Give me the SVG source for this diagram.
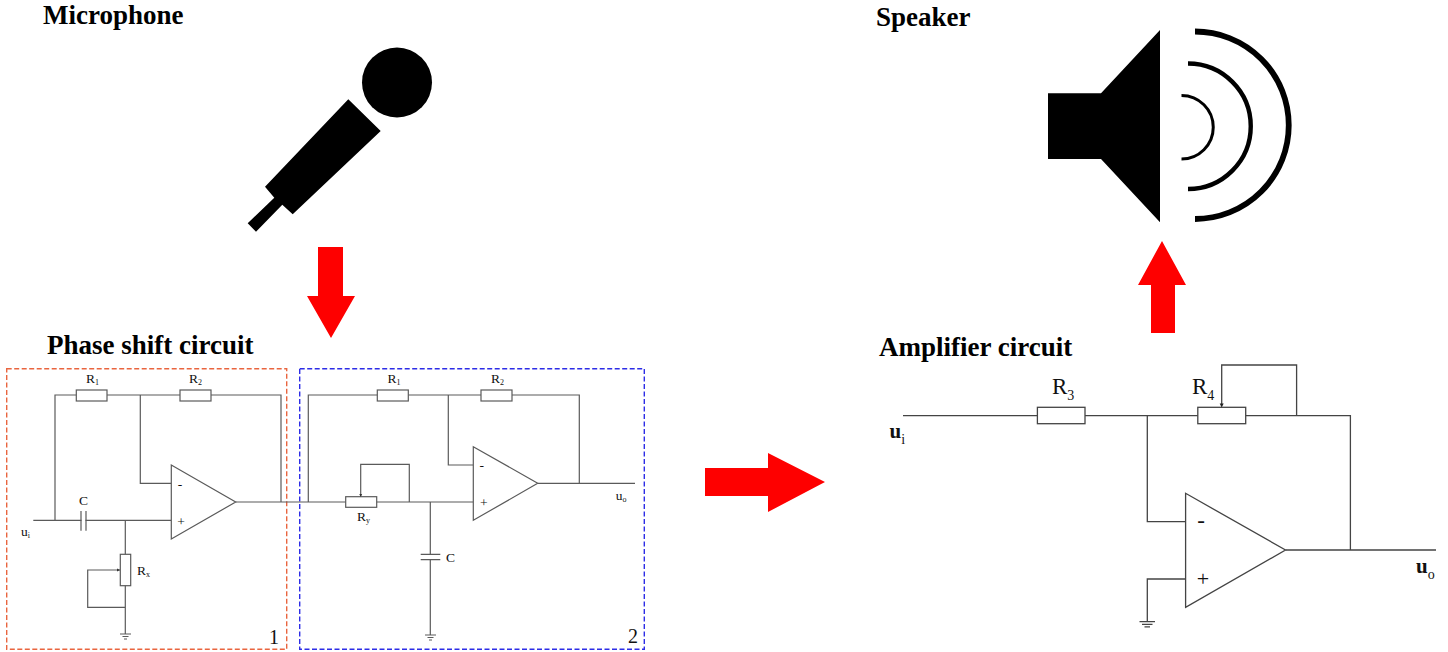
<svg xmlns="http://www.w3.org/2000/svg" width="1448" height="652" viewBox="0 0 1448 652">
<style>
text{font-family:"Liberation Serif","Times New Roman",serif;fill:#111}
.t{font-size:27px;font-weight:bold;fill:#000}
.l{font-size:13.5px}
.s{font-size:8px}
.L{font-size:23px}
.S{font-size:14px}
.m{text-anchor:middle}
.w{fill:none;stroke:#5a5a5a;stroke-width:1.2}
.W{fill:none;stroke:#444;stroke-width:1.3}
.b{fill:#fff;stroke:#5a5a5a;stroke-width:1.2}
.B{fill:#fff;stroke:#444;stroke-width:1.3}
.r{fill:#fe0000}
.k{fill:#000}
.a{fill:none;stroke:#000}
.u{font-size:21px;font-weight:bold}
</style>
<rect width="1448" height="652" fill="#fff"/>
<g id="microphone">
<circle class="k" cx="397" cy="82.5" r="35"/>
<polygon class="k" points="348.3,99.3 380.7,131 292.7,214.3 282.3,204.7 256,231.7 247.7,223.3 274.3,197.7 265,186.7"/>
<text class="t" x="43" y="24">Microphone</text>
</g>
<g id="speaker">
<polygon class="k" points="1048,93.3 1101,93.3 1160,30 1160,222.3 1101,159 1048,159"/>
<path class="a" stroke-width="5.8" d="M1195,31.5A93.75,93.75 0 0 1 1195,219"/>
<path class="a" stroke-width="4.4" d="M1188,63.5A62.75,62.75 0 0 1 1188,189"/>
<path class="a" stroke-width="3" d="M1181.5,95.5A31.75,31.75 0 0 1 1181.5,159"/>
<text class="t" x="876" y="26">Speaker</text>
</g>
<g id="arrow-down"><polygon class="r" points="318,247 343,247 343,296 355,296 331,338 307,296 318,296"/></g>
<g id="arrow-up"><polygon class="r" points="1151,333 1175,333 1175,285 1186,285 1162,241 1138,285 1151,285"/></g>
<g id="arrow-right"><polygon class="r" points="705,468 768,468 768,453 825,482 768,512 768,496 705,496"/></g>
<g id="phase-shift-title"><text class="t" x="47" y="354">Phase shift circuit</text></g>
<g id="box-1">
<rect x="6.7" y="368.7" width="280" height="280.6" fill="none" stroke="#e9653f" stroke-width="1.4" stroke-dasharray="5 2.5"/>
<text x="269" y="644" font-size="20">1</text>
</g>
<g id="box-2">
<rect x="299.7" y="368.7" width="344.6" height="280.6" fill="none" stroke="#2d2de6" stroke-width="1.4" stroke-dasharray="5 2.5"/>
<text x="628" y="643" font-size="20">2</text>
</g>
<g id="connectors">
<path class="w" d="M33.3,520.3H171.3M55,520.3V395H281V502M140.3,395V483.3H171.3M235.7,502H473.3M125.3,520.3V634M125.3,607.3H87.7V570H120"/>
<path class="w" d="M308.3,502V395H579.3V483.3M448.3,395V465H473.3M537.7,483.3H635M360.7,496V464.3H409.3V502M430.3,502V635"/>
<path class="W" d="M903,415.7H1350.4V550M1147.3,415.7V521.7H1185.6M1285.5,550H1436M1185.6,579H1147.3V621.7M1221.7,405V365H1296.6V415.7"/>
</g>
<g id="r1-a"><rect class="b" x="76.3" y="390" width="30.7" height="11"/><text class="l" x="86" y="383">R<tspan class="s" dy="2">1</tspan></text></g>
<g id="r2-a"><rect class="b" x="180" y="390" width="31" height="11"/><text class="l" x="189" y="383">R<tspan class="s" dy="2">2</tspan></text></g>
<g id="c-a"><rect x="81.5" y="515" width="4" height="11" fill="#fff"/><path class="w" d="M81,511V530.7M86,511V530.7"/><text class="l" x="79" y="505">C</text></g>
<g id="rx"><rect class="b" x="120.3" y="554.3" width="10.4" height="31.4"/><polygon points="120,570 117,568.6 117,571.4" fill="#333"/><text class="l" x="137" y="575">R<tspan class="s" dy="2">x</tspan></text></g>
<g id="gnd-a"><path class="w" d="M120,634H131M122.5,636.5H128.5M124,639H127"/></g>
<g id="opamp-a"><polygon class="b" points="171.3,465 171.3,539 235.7,502"/><text class="l m" x="180" y="488.5">-</text><text class="l m" x="181" y="526">+</text></g>
<g id="ui-a"><text class="l" x="21" y="536">u<tspan class="s" dy="2">i</tspan></text></g>
<g id="r1-b"><rect class="b" x="377.3" y="390" width="31" height="11"/><text class="l" x="387.5" y="383">R<tspan class="s" dy="2">1</tspan></text></g>
<g id="r2-b"><rect class="b" x="481" y="390" width="31" height="11"/><text class="l" x="491" y="383">R<tspan class="s" dy="2">2</tspan></text></g>
<g id="ry"><rect class="b" x="345.7" y="496.7" width="31" height="10.6"/><polygon points="360.7,497 359.3,494 362.1,494" fill="#333"/><text class="l" x="357" y="520.7">R<tspan class="s" dy="2">y</tspan></text></g>
<g id="c-b"><rect x="425" y="555" width="10" height="4" fill="#fff"/><path class="w" d="M420.7,554.3H440.3M420.7,559.7H440.3"/><text class="l" x="446" y="561.7">C</text></g>
<g id="gnd-b"><path class="w" d="M425,635H436M427.5,637.5H433.5M429,640H432"/></g>
<g id="opamp-b"><polygon class="b" points="473.3,446.7 473.3,520.3 537.7,483.3"/><text class="l m" x="481.7" y="470">-</text><text class="l m" x="483.7" y="506.5">+</text></g>
<g id="uo-a"><text class="l" x="615.7" y="500">u<tspan class="s" dy="2">o</tspan></text></g>
<g id="amplifier-title"><text class="t" x="879" y="356">Amplifier circuit</text></g>
<g id="r3"><rect class="B" x="1037.4" y="407.3" width="47.6" height="16.4"/><text class="L" x="1052" y="394">R<tspan class="S" dy="6">3</tspan></text></g>
<g id="r4"><rect class="B" x="1197.8" y="407.3" width="47.9" height="16.4"/><polygon points="1221.7,407.5 1219.7,403.5 1223.7,403.5" fill="#222"/><text class="L" x="1192" y="394">R<tspan class="S" dy="6">4</tspan></text></g>
<g id="opamp-c"><polygon class="B" points="1185.6,493.3 1185.6,607.3 1285.5,550"/><text class="m" x="1201" y="528" font-size="23">-</text><text class="m" x="1203" y="586" font-size="22">+</text></g>
<g id="gnd-c"><path class="W" d="M1139.5,621.7H1155M1142,624.3H1152.5M1144.5,626.8H1150"/></g>
<g id="ui-c"><text class="u" x="889.5" y="438">u<tspan class="S" dy="6" font-weight="normal">i</tspan></text></g>
<g id="uo-c"><text class="u" x="1416" y="573">u<tspan class="S" dy="6" font-weight="normal">o</tspan></text></g>
</svg>
